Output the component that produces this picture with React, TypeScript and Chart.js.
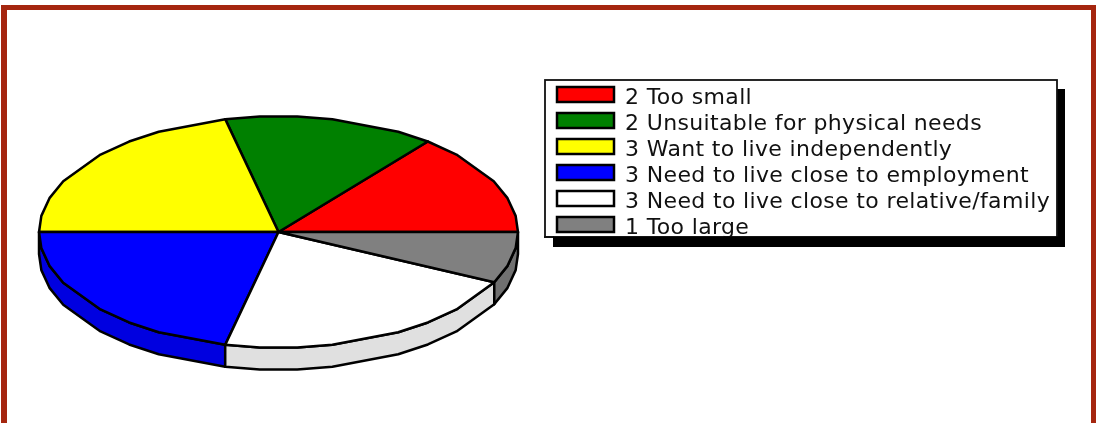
import React, { useEffect, useRef } from "react";
import { Chart, registerables, ArcElement } from "chart.js";

const categories = [
  "2 Too small",
  "2 Unsuitable for physical needs",
  "3 Want to live independently",
  "3 Need to live close to employment",
  "3 Need to live close to relative/family",
  "1 Too large",
];
const counts = [2, 2, 3, 3, 3, 1];
const sliceColors = ["#ff0000", "#008000", "#ffff00", "#0000ff", "#ffffff", "#808080"];
const rimQuadrantDeg = [8, 17, 26, 42, 51.4, 60, 77, 85.5];

const X_STRETCH = 240 / 116;
const DEPTH = 22;
const SHADE = 224 / 255;
const TEXT_DROP = 4;

const rimDeg: number[] = [];
for (const q of [0, 180]) {
  rimQuadrantDeg.forEach((d) => rimDeg.push(q + d));
  [...rimQuadrantDeg].reverse().forEach((d) => rimDeg.push(q + 180 - d));
}

function shade(hex: string) {
  const n = parseInt(hex.slice(1), 16);
  const c = (v: number) => Math.round(v * SHADE);
  return `rgb(${c((n >> 16) & 255)},${c((n >> 8) & 255)},${c(n & 255)})`;
}

class PolyArc extends ArcElement {
  static id = "polyArc";
  draw(ctx: CanvasRenderingContext2D) {
    const { x, y, startAngle, endAngle, outerRadius } = (this as any).getProps([
      "x",
      "y",
      "startAngle",
      "endAngle",
      "outerRadius",
    ]);
    const o = (this as any).options;
    const rx = outerRadius * X_STRETCH;
    const ry = outerRadius;
    const toRad = Math.PI / 180;
    const angles = [
      startAngle,
      ...rimDeg.map((d) => d * toRad).filter((a) => a > startAngle + 0.01 && a < endAngle - 0.01),
      endAngle,
    ];
    const pts: [number, number][] = angles.map((a) => [x + rx * Math.cos(a), y - ry * Math.sin(a)]);
    ctx.save();
    ctx.lineWidth = o.borderWidth;
    ctx.strokeStyle = o.borderColor;
    ctx.lineJoin = "round";
    if (startAngle >= Math.PI - 1e-6) {
      ctx.beginPath();
      pts.forEach(([px, py], i) => (i ? ctx.lineTo(px, py) : ctx.moveTo(px, py)));
      [...pts].reverse().forEach(([px, py]) => ctx.lineTo(px, py + DEPTH));
      ctx.closePath();
      ctx.fillStyle = shade(o.backgroundColor);
      ctx.fill();
      ctx.stroke();
    }
    ctx.beginPath();
    ctx.moveTo(x, y);
    pts.forEach(([px, py]) => ctx.lineTo(px, py));
    ctx.closePath();
    ctx.fillStyle = o.backgroundColor;
    ctx.fill();
    ctx.stroke();
    ctx.restore();
  }
}

const layoutPlugin = {
  id: "layoutPlugin",
  afterLayout(chart: any) {
    chart.chartArea = { left: 38, right: 519, top: 115, bottom: 349, width: 481, height: 234 };
    const lg = chart.legend;
    lg.left = 553;
    lg.right = 1057;
    lg.top = 79.5;
    lg.bottom = 1000;
    lg.width = 504;
    lg.height = 920.5;
  },
  beforeDraw(chart: any) {
    const ctx = chart.ctx as any;
    ctx.save();
    ctx.fillStyle = "#000";
    ctx.fillRect(553, 89, 512, 158);
    ctx.fillStyle = "#fff";
    ctx.fillRect(545, 80, 512, 157);
    ctx.strokeStyle = "#111";
    ctx.lineWidth = 1.8;
    ctx.strokeRect(545, 80, 512, 157);
    ctx.restore();
    ctx.letterSpacing = "0.35px";
    const nativeFillText = CanvasRenderingContext2D.prototype.fillText;
    ctx.fillText = function (t: string, x: number, y: number) {
      nativeFillText.call(ctx, t, x, y + TEXT_DROP);
    };
  },
  beforeDatasetsDraw(chart: any) {
    const ctx = chart.ctx as any;
    ctx.letterSpacing = "0px";
    delete ctx.fillText;
  },
  afterDraw(chart: any) {
    const ctx = chart.ctx as CanvasRenderingContext2D;
    ctx.save();
    ctx.fillStyle = "#111";
    ctx.fillRect(544, 236, 10, 2);
    ctx.fillStyle = "#000";
    ctx.fillRect(553, 236.5, 512, 10.5);
    ctx.restore();
  },
};

Chart.register(...registerables, PolyArc as any);
(Chart.defaults as any).datasets.pie.dataElementType = "polyArc";

export default function App() {
  const ref = useRef<HTMLCanvasElement>(null);
  useEffect(() => {
    const chart = new Chart(ref.current!, {
      type: "pie",
      data: {
        labels: categories,
        datasets: [
          {
            data: counts,
            backgroundColor: sliceColors,
            borderColor: "#000",
            borderWidth: 2.5,
            clip: false,
          } as any,
        ],
      },
      options: {
        animation: false,
        responsive: false,
        rotation: 90,
        plugins: {
          tooltip: { enabled: false },
          legend: {
            display: true,
            position: "right",
            align: "start",
            labels: {
              boxWidth: 57,
              boxHeight: 15,
              padding: 4,
              color: "#111",
              font: { family: "'DejaVu Sans'", size: 22 },
            },
          },
        },
      },
      plugins: [layoutPlugin],
    } as any);
    return () => chart.destroy();
  }, []);
  return (
    <div style={{ position: "fixed", left: 0, top: 0, width: 1096, height: 423, overflow: "hidden", background: "#fff" }}>
      <canvas ref={ref} width={1096} height={423} style={{ display: "block" }} />
      <div
        style={{
          position: "absolute",
          left: 1,
          top: 5,
          width: 1095,
          height: 500,
          boxSizing: "border-box",
          borderStyle: "solid",
          borderColor: "#a5260f",
          borderWidth: "5px 5px 5px 6px",
          pointerEvents: "none",
        }}
      />
    </div>
  );
}
